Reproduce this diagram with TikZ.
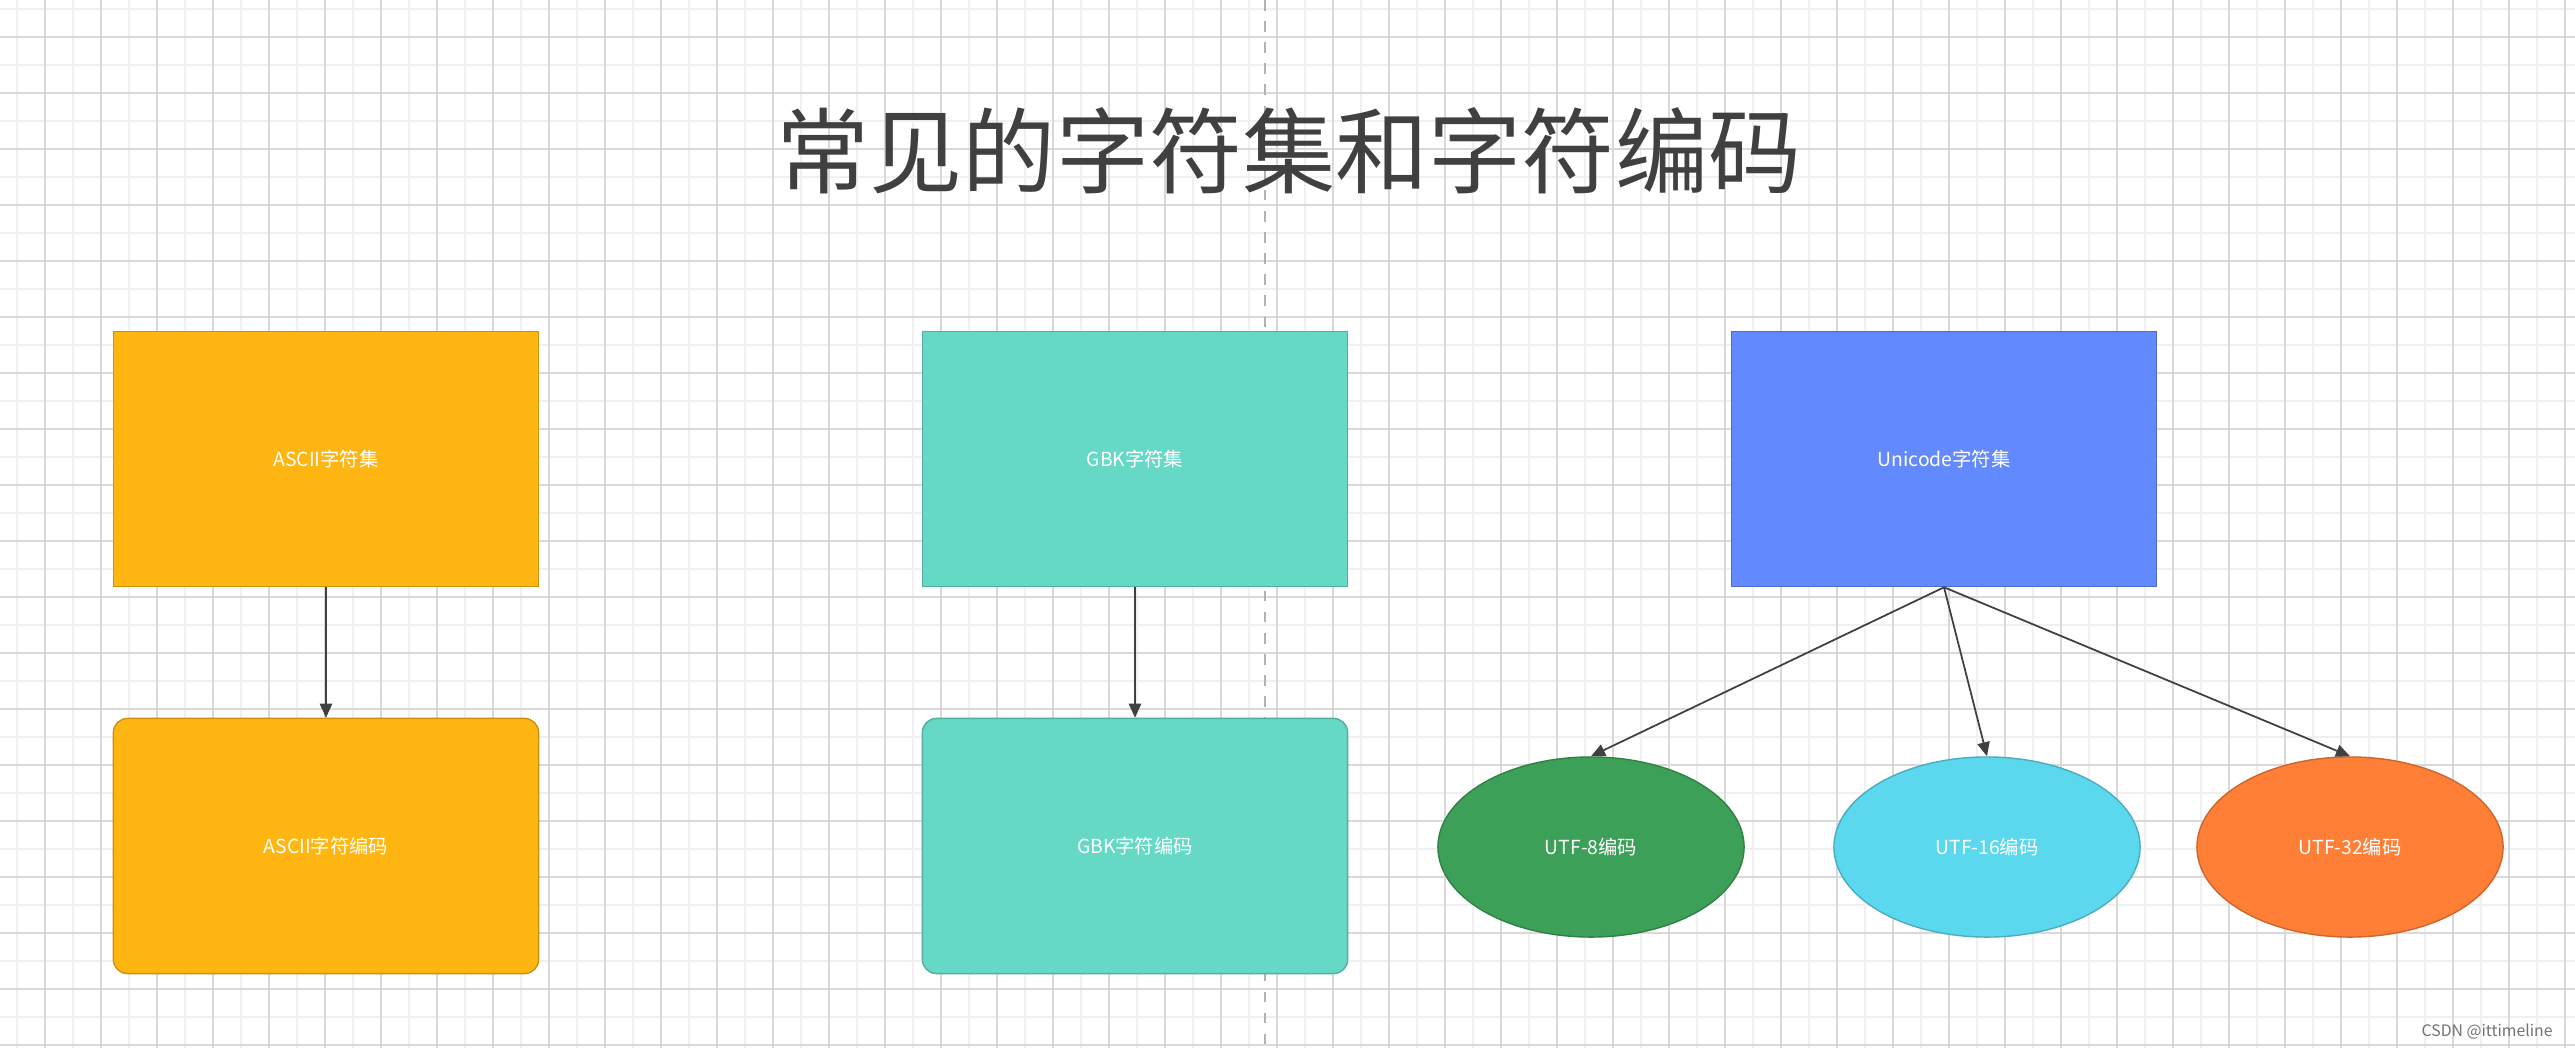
\documentclass[tikz,border=0pt]{standalone}
\usepackage{fontspec}
\setmainfont{Noto Sans CJK SC}
\usetikzlibrary{shapes.geometric,arrows.meta}
\definecolor{cA}{HTML}{FFB612}
\definecolor{cG}{HTML}{66D9C6}
\definecolor{cU}{HTML}{6389FF}
\definecolor{c8}{HTML}{3DA058}
\definecolor{c16}{HTML}{5CD8EE}
\definecolor{c32}{HTML}{FF7F37}
\tikzset{
 box/.style={draw=#1!80!black,fill=#1,minimum width=4.25cm,minimum height=2.55cm,text=white,font=\fontsize{5.5}{6}\selectfont,inner sep=0pt},
 ell/.style={ellipse,draw=#1!80!black,fill=#1,minimum width=3.06cm,minimum height=1.8cm,text=white,font=\fontsize{5.5}{6}\selectfont,inner sep=0pt},
 arr/.style={draw=black!75,line width=0.5pt,-{Triangle[length=4pt,width=3.5pt]}}
}
\begin{document}
\begin{tikzpicture}[x=0.01cm,y=-0.01cm]
\useasboundingbox (0,0) rectangle (2575,1048);
\fill[white] (0,0) rectangle (2575,1048);
\foreach \x in {17,73,...,2575} \draw[black!6,line width=0.4pt] (\x,0)--(\x,1048);
\foreach \y in {9,65,...,1048} \draw[black!6,line width=0.4pt] (0,\y)--(2575,\y);
\foreach \x in {45,101,...,2575} \draw[black!15,line width=0.4pt] (\x,0)--(\x,1048);
\foreach \y in {37,93,...,1048} \draw[black!15,line width=0.4pt] (0,\y)--(2575,\y);
\draw[black!30,dashed,line width=0.5pt] (1265,0)--(1265,1048);
\node[text=black!75,font=\fontsize{26.5}{30}\selectfont] (title) at (1289,151) {常见的字符集和字符编码};
\node[box=cA] (a1) at (326,459) {ASCII字符集};
\node[box=cA,rounded corners=4pt] (a2) at (326,846) {ASCII字符编码};
\node[box=cG] (g1) at (1135,459) {GBK字符集};
\node[box=cG,rounded corners=4pt] (g2) at (1135,846) {GBK字符编码};
\node[box=cU] (u1) at (1944,459) {Unicode字符集};
\node[ell=c8] (e1) at (1591,847) {UTF-8编码};
\node[ell=c16] (e2) at (1987,847) {UTF-16编码};
\node[ell=c32] (e3) at (2350,847) {UTF-32编码};
\draw[arr] (a1.south)--(a2.north);
\draw[arr] (g1.south)--(g2.north);
\draw[arr] (u1.south)--(e1.north);
\draw[arr] (u1.south)--(e2.north);
\draw[arr] (u1.south)--(e3.north);
\node[text=black!55,font=\fontsize{4.5}{5}\selectfont,anchor=east] (wm) at (2565,1032) {CSDN @ittimeline};
\end{tikzpicture}
\end{document}
